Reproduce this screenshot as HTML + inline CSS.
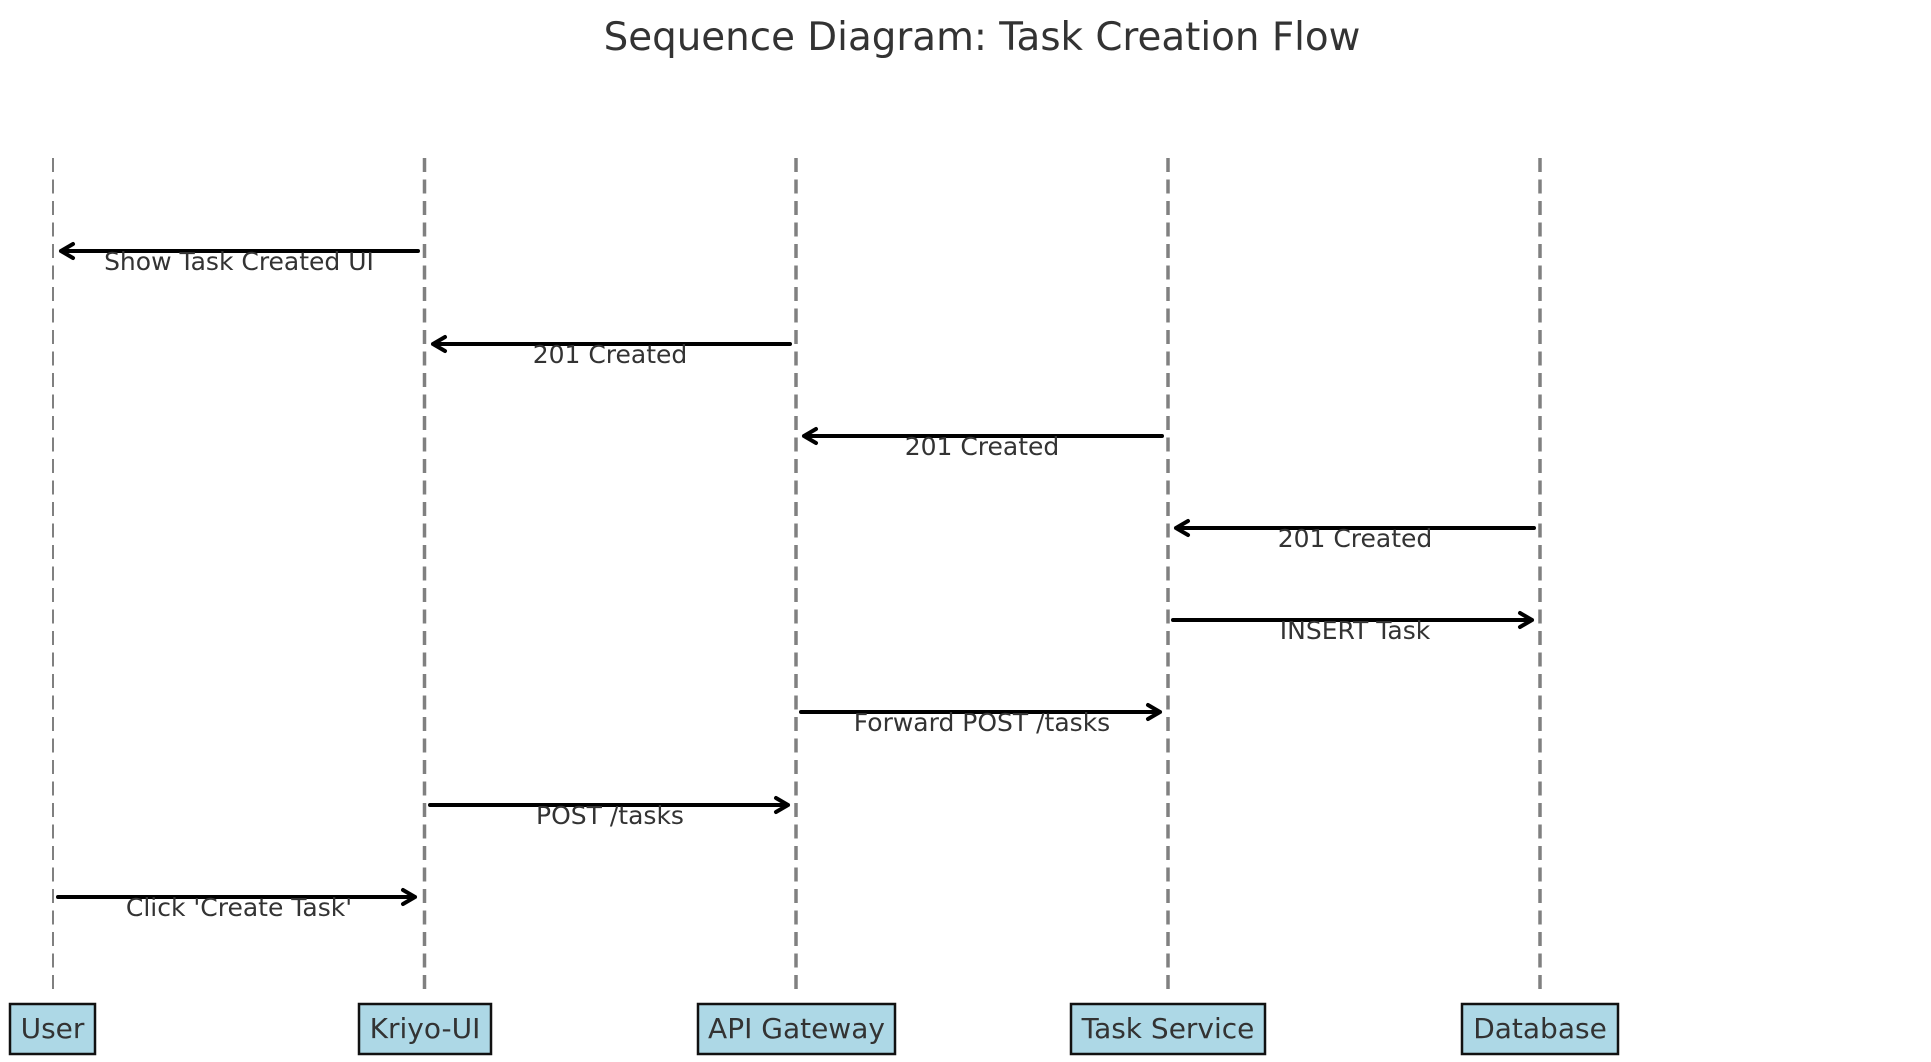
<!DOCTYPE html>
<html><head><meta charset="utf-8"><style>
html,body{margin:0;padding:0;background:#fff;}
svg{display:block;}
text{font-family:"DejaVu Sans","Liberation Sans",sans-serif;fill:#333;}
</style></head><body>
<svg width="1931" height="1062" viewBox="0 0 1931 1062" xmlns="http://www.w3.org/2000/svg">
<text x="982" y="50" font-size="38.8" text-anchor="middle">Sequence Diagram: Task Creation Flow</text>
<g stroke="#808080" fill="none" stroke-dasharray="14,7.5">
<line x1="53" y1="158" x2="53" y2="990" stroke-width="2"/>
<line x1="424.5" y1="158" x2="424.5" y2="990" stroke-width="3.5"/>
<line x1="796" y1="158" x2="796" y2="990" stroke-width="3.5"/>
<line x1="1168" y1="158" x2="1168" y2="990" stroke-width="3.5"/>
<line x1="1540" y1="158" x2="1540" y2="990" stroke-width="3.5"/>
</g>
<g stroke="#000" stroke-width="4" fill="none" stroke-linecap="round" stroke-linejoin="round">
<path d="M418 251 H61 M73 244 L61 251 L73 258"/>
<path d="M790 344 H433 M445 337 L433 344 L445 351"/>
<path d="M1162 436 H804 M816 429 L804 436 L816 443"/>
<path d="M1534 528 H1176 M1188 521 L1176 528 L1188 535"/>
<path d="M1173 620 H1532 M1520 613 L1532 620 L1520 627"/>
<path d="M801 712 H1160 M1148 705 L1160 712 L1148 719"/>
<path d="M430 805 H788 M776 798 L788 805 L776 812"/>
<path d="M58 897 H415 M403 890 L415 897 L403 904"/>
</g>
<g font-size="25" text-anchor="middle">
<text x="239" y="270">Show Task Created UI</text>
<text x="610" y="363">201 Created</text>
<text x="982" y="455">201 Created</text>
<text x="1355" y="547">201 Created</text>
<text x="1355" y="639">INSERT Task</text>
<text x="982" y="731">Forward POST /tasks</text>
<text x="610" y="824">POST /tasks</text>
<text x="239" y="916">Click 'Create Task'</text>
</g>
<g fill="#add8e6" stroke="#111" stroke-width="2.5">
<rect x="10" y="1004" width="85" height="50"/>
<rect x="359" y="1004" width="132" height="50"/>
<rect x="698" y="1004" width="197" height="50"/>
<rect x="1071" y="1004" width="194" height="50"/>
<rect x="1462" y="1004" width="156" height="50"/>
</g>
<g font-size="28" text-anchor="middle">
<text x="52.5" y="1038">User</text>
<text x="425" y="1038">Kriyo-UI</text>
<text x="796.5" y="1038">API Gateway</text>
<text x="1168" y="1038">Task Service</text>
<text x="1540" y="1038">Database</text>
</g>
</svg>
</body></html>
